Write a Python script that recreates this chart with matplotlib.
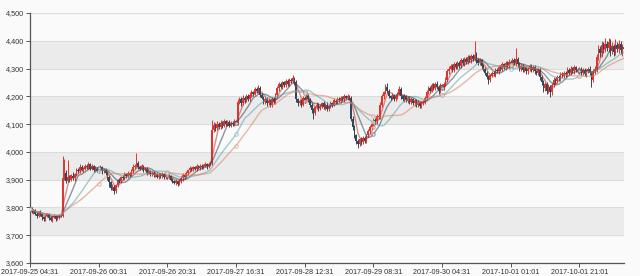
import numpy as np
import pandas as pd
import matplotlib
matplotlib.use('Agg')
import matplotlib.pyplot as plt
from matplotlib.ticker import FuncFormatter

# half-hour candles, values
first_open = 3808
closes = [
    3795, 3785, 3790, 3778, 3770, 3782, 3776, 3765, 3758, 3768,
    3775, 3762, 3755, 3765, 3770, 3760, 3766, 3772, 3770, 3905,
    3925, 3895, 3910, 3900, 3915, 3905, 3920, 3935, 3930, 3945,
    3935, 3940, 3950, 3945, 3955, 3940, 3948, 3935, 3940, 3932,
    3938, 3945, 3930, 3935, 3925, 3910, 3890, 3870, 3875, 3860,
    3880, 3900, 3895, 3910, 3905, 3920, 3912, 3925, 3918, 3930,
    3945, 3950, 3960, 3945, 3940, 3950, 3935, 3940, 3925, 3930,
    3920, 3925, 3915, 3920, 3910, 3918, 3912, 3920, 3910, 3915,
    3908, 3912, 3900, 3895, 3888, 3895, 3885, 3895, 3905, 3918,
    3910, 3925, 3935, 3942, 3938, 3945, 3940, 3948, 3942, 3950,
    3945, 3950, 3955, 3948, 3958, 3960, 4080, 4095, 4085, 4100,
    4090, 4105, 4095, 4110, 4100, 4108, 4095, 4105, 4100, 4110,
    4105, 4180, 4190, 4175, 4195, 4185, 4200, 4190, 4205, 4215,
    4210, 4225, 4220, 4230, 4205, 4195, 4180, 4190, 4175, 4185,
    4170, 4190, 4180, 4205, 4230, 4245, 4235, 4250, 4240, 4255,
    4245, 4260, 4255, 4265, 4250, 4190, 4175, 4185, 4170, 4195,
    4185, 4200, 4190, 4170, 4150, 4140, 4160, 4170, 4158, 4165,
    4175, 4160, 4170, 4155, 4165, 4175, 4170, 4185, 4180, 4190,
    4185, 4195, 4190, 4200, 4195, 4200, 4195, 4120, 4090, 4060,
    4040, 4030, 4045, 4035, 4050, 4040, 4060, 4075, 4090, 4100,
    4115, 4110, 4130, 4125, 4170, 4200, 4215, 4235, 4220, 4200,
    4195, 4205, 4190, 4200, 4210, 4225, 4200, 4190, 4200, 4185,
    4195, 4180, 4190, 4175, 4185, 4170, 4180, 4165, 4175, 4180,
    4195, 4215, 4230, 4220, 4240, 4230, 4245, 4235, 4220, 4240,
    4230, 4245, 4260, 4290, 4300, 4310, 4295, 4315, 4305, 4320,
    4310, 4330, 4320, 4335, 4325, 4340, 4330, 4345, 4335, 4350,
    4330, 4320, 4330, 4310, 4300, 4285, 4270, 4260, 4275, 4285,
    4280, 4295, 4290, 4305, 4300, 4315, 4305, 4320, 4310, 4325,
    4315, 4330, 4320, 4335, 4315, 4300, 4310, 4295, 4305, 4290,
    4300, 4310, 4295, 4305, 4290, 4285, 4295, 4270, 4250, 4230,
    4245, 4220, 4235, 4215, 4240, 4260, 4255, 4270, 4265, 4280,
    4275, 4285, 4280, 4295, 4285, 4300, 4290, 4305, 4295, 4290,
    4300, 4285, 4295, 4280, 4290, 4300, 4285, 4260, 4290, 4300,
    4340, 4370, 4355, 4385, 4370, 4390, 4375, 4395, 4365, 4380,
    4360, 4385, 4370, 4390, 4365, 4375, 4370,
]
upper_wick = [
    8, 5, 6, 4, 7, 5, 9, 4, 6, 5,
    6, 4, 8, 5, 7, 3, 6, 5, 4, 80,
    50, 10, 60, 8, 6, 12, 5, 8, 6, 10,
    7, 5, 8, 6, 10, 4, 7, 5, 9, 6,
    5, 8, 4, 6, 7, 5, 6, 4, 8, 5,
    6, 4, 7, 5, 8, 6, 5, 7, 4, 8,
    10, 8, 35, 6, 5, 8, 4, 6, 5, 7,
    4, 6, 5, 7, 4, 6, 5, 8, 4, 6,
    5, 7, 4, 6, 5, 8, 4, 6, 7, 5,
    6, 8, 5, 7, 4, 6, 5, 8, 6, 7,
    5, 6, 8, 5, 7, 6, 35, 12, 8, 10,
    7, 9, 6, 8, 5, 7, 6, 8, 5, 7,
    6, 12, 8, 7, 9, 6, 8, 7, 9, 8,
    6, 8, 7, 10, 6, 8, 5, 7, 6, 8,
    5, 7, 6, 8, 7, 6, 8, 5, 7, 6,
    8, 6, 7, 11, 6, 8, 5, 7, 6, 8,
    7, 6, 8, 5, 6, 7, 5, 8, 6, 7,
    5, 7, 6, 8, 5, 7, 6, 8, 5, 7,
    6, 8, 5, 7, 6, 8, 5, 6, 8, 7,
    6, 8, 5, 7, 6, 8, 5, 7, 6, 8,
    7, 6, 8, 7, 9, 8, 6, 10, 13, 7,
    6, 8, 5, 7, 6, 12, 7, 6, 8, 5,
    7, 6, 8, 5, 7, 6, 8, 5, 7, 6,
    8, 7, 6, 9, 7, 8, 6, 9, 7, 8,
    6, 8, 9, 7, 10, 8, 7, 9, 8, 7,
    8, 7, 9, 8, 7, 10, 8, 9, 7, 50,
    8, 7, 9, 6, 8, 7, 6, 8, 7, 6,
    8, 7, 6, 8, 7, 9, 6, 8, 7, 9,
    7, 8, 9, 38, 7, 8, 6, 7, 8, 6,
    7, 8, 6, 9, 7, 6, 8, 7, 6, 8,
    7, 6, 8, 7, 9, 8, 6, 8, 7, 9,
    6, 8, 7, 9, 6, 8, 7, 9, 6, 8,
    7, 6, 8, 7, 9, 6, 8, 7, 9, 8,
    12, 15, 10, 14, 12, 20, 10, 15, 12, 14,
    10, 20, 12, 14, 10, 12, 8,
]
lower_wick = [
    6, 5, 8, 4, 7, 5, 6, 9, 5, 6,
    4, 7, 5, 6, 4, 8, 5, 6, 4, 5,
    6, 8, 5, 7, 6, 5, 8, 6, 5, 7,
    5, 7, 6, 5, 8, 6, 5, 7, 6, 5,
    7, 5, 8, 6, 7, 10, 15, 8, 6, 10,
    7, 5, 6, 8, 5, 7, 6, 5, 8, 6,
    5, 7, 6, 8, 5, 6, 8, 5, 7, 6,
    8, 5, 7, 6, 5, 8, 6, 5, 7, 6,
    5, 7, 6, 8, 5, 6, 7, 5, 6, 8,
    6, 5, 7, 6, 8, 5, 6, 7, 5, 6,
    7, 5, 6, 8, 5, 6, 8, 7, 10, 6,
    8, 6, 9, 7, 6, 8, 7, 6, 8, 7,
    6, 8, 7, 9, 6, 8, 7, 6, 8, 7,
    7, 6, 8, 7, 9, 6, 8, 7, 10, 6,
    8, 7, 6, 8, 7, 9, 6, 8, 7, 6,
    7, 8, 6, 7, 9, 12, 8, 7, 9, 6,
    8, 7, 9, 8, 10, 22, 8, 7, 9, 6,
    8, 7, 9, 6, 8, 7, 9, 6, 8, 7,
    6, 8, 7, 9, 6, 8, 7, 10, 12, 9,
    10, 15, 8, 10, 7, 9, 8, 7, 9, 8,
    7, 9, 8, 6, 8, 7, 9, 6, 8, 7,
    9, 6, 8, 7, 9, 6, 8, 7, 9, 6,
    8, 7, 9, 6, 8, 7, 9, 6, 8, 7,
    6, 8, 7, 9, 6, 8, 7, 9, 10, 7,
    8, 6, 9, 7, 8, 6, 9, 7, 8, 6,
    7, 8, 6, 9, 7, 8, 6, 9, 7, 8,
    9, 8, 7, 10, 8, 9, 7, 15, 8, 7,
    8, 9, 7, 8, 9, 7, 8, 9, 7, 8,
    9, 7, 8, 9, 10, 8, 7, 9, 8, 10,
    8, 9, 7, 8, 10, 9, 8, 12, 10, 14,
    9, 12, 8, 18, 10, 8, 9, 7, 8, 9,
    7, 8, 9, 7, 8, 9, 7, 8, 9, 7,
    8, 9, 7, 8, 9, 7, 8, 25, 10, 9,
    12, 10, 15, 12, 14, 10, 12, 15, 20, 12,
    14, 10, 12, 15, 12, 20, 14,
]
tick_labels = ['2017-09-25 04:31', '2017-09-26 00:31', '2017-09-26 20:31',
               '2017-09-27 16:31', '2017-09-28 12:31', '2017-09-29 08:31',
               '2017-09-30 04:31', '2017-10-01 01:01', '2017-10-01 21:01']
ma_windows = [5, 10, 20, 30]
ma_colors = ['#c23531', '#2f4554', '#61a0a8', '#d48265']

plt.rcParams['font.family'] = ['Liberation Sans', 'DejaVu Sans']

closes = np.array(closes, dtype=float)
opens = np.concatenate([[first_open], closes[:-1]])
highs = np.maximum(opens, closes) + np.array(upper_wick)
lows = np.minimum(opens, closes) - np.array(lower_wick)
x = np.arange(len(closes))
up = closes >= opens
colors = np.where(up, '#e0352f', '#314656')

fig = plt.figure(figsize=(6.4, 2.76), dpi=100, facecolor='#fafafa')
ax = fig.add_axes([30 / 640, 13 / 276, 594 / 640, 250 / 276])
ax.set_facecolor('#fafafa')

# alternating split areas
for lo in range(3700, 4500, 200):
    ax.axhspan(lo, lo + 100, color='#ebebeb', lw=0, zorder=0)
ax.set_axisbelow(True)
ax.grid(axis='y', color='#dcdcdc', lw=0.8)

ax.vlines(x, lows, highs, colors=colors, lw=0.7, zorder=2)
body = np.where(np.abs(closes - opens) < 1, 1, closes - opens)
ax.bar(x, body, bottom=opens, width=0.85, color=colors, lw=0, zorder=3)

close_s = pd.Series(closes)
for w, c in zip(ma_windows, ma_colors):
    ma = close_s.rolling(w, min_periods=1).mean()
    ax.plot(x, ma, color=c, lw=1.0, alpha=0.55, zorder=4,
            marker='o', markevery=40, ms=2.5, mfc='#fafafa', mew=0.7)

ax.set_xlim(0, len(closes) - 1)
ax.set_ylim(3600, 4500)
ax.set_yticks(range(3600, 4501, 100))
ax.yaxis.set_major_formatter(FuncFormatter(lambda v, p: f'{int(v):,}'))
ax.set_xticks(range(0, len(closes), 40))
ax.set_xticklabels(tick_labels)

for side in ['top', 'right']:
    ax.spines[side].set_visible(False)
for side in ['left', 'bottom']:
    ax.spines[side].set_color('#555555')
    ax.spines[side].set_linewidth(0.9)
ax.tick_params(length=3, width=0.7, color='#555555', labelsize=5.2,
               labelcolor='#333333', pad=1.5)

fig.savefig('out.png', dpi=100, facecolor=fig.get_facecolor())
